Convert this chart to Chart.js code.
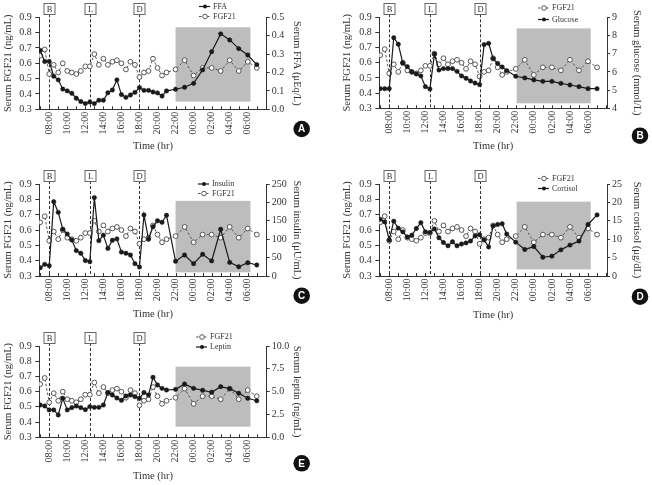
<!DOCTYPE html>
<html><head><meta charset="utf-8">
<script src="https://cdn.jsdelivr.net/npm/chart.js@4.4.1/dist/chart.umd.min.js"></script>
<style>
html,body{margin:0;padding:0;background:#fff;}
#wrap{position:relative;width:652px;height:485px;overflow:hidden;background:#fff;}
#wrap canvas{position:absolute;left:0;top:0;}
</style></head><body>
<div id="wrap">
<canvas id="cA" width="652" height="485"></canvas>
<canvas id="cB" width="652" height="485"></canvas>
<canvas id="cC" width="652" height="485"></canvas>
<canvas id="cD" width="652" height="485"></canvas>
<canvas id="cE" width="652" height="485"></canvas>
</div>
<script>
// ---- data (hours; 24+ = next day) ----
const timePoints = [7,7.5,8,8.5,9,9.5,10,10.5,11,11.5,12,12.5,13,13.5,14,14.5,15,15.5,16,16.5,17,17.5,18,18.5,19,19.5,20,20.5,21,22,23,24,25,26,27,28,29,30,31];
const xTickValues = [8,10,12,14,16,18,20,22,24,26,28,30];
const xTickLabels = ['08:00','10:00','12:00','14:00','16:00','18:00','20:00','22:00','00:00','02:00','04:00','06:00'];
const mealTimes = [8,12.5,18];
const mealLabels = ['B','L','D'];

const fgf21 = [0.65,0.69,0.53,0.59,0.54,0.60,0.55,0.54,0.53,0.55,0.58,0.58,0.66,0.59,0.63,0.59,0.61,0.62,0.60,0.56,0.61,0.59,0.51,0.54,0.55,0.63,0.57,0.52,0.54,
               0.56,0.62,0.52,0.57,0.57,0.55,0.62,0.55,0.61,0.57];
const ffa = [0.32,0.26,0.26,0.18,0.16,0.11,0.10,0.087,0.06,0.042,0.031,0.04,0.031,0.049,0.049,0.09,0.105,0.16,0.08,0.065,0.078,0.092,0.118,0.103,0.103,0.094,0.089,0.072,0.10,
             0.109,0.12,0.141,0.214,0.313,0.41,0.377,0.33,0.295,0.243];
const glucose = [5.08,5.08,5.08,7.88,7.52,6.49,6.29,6.0,5.89,5.78,5.19,5.06,6.98,6.1,6.18,6.18,6.18,6.03,5.78,5.65,5.5,5.39,5.3,7.5,7.57,6.73,6.47,6.27,6.07,
                 5.76,5.67,5.56,5.48,5.48,5.37,5.28,5.19,5.08,5.08];
const insulin = [22.6,31.7,28,202,173,127,114,98,69,62,42,39,213,96,111,75,97,101,65,62,57,33.5,24.5,166,100,134,150,146,165,
                 40,57,33.5,59,41,127,37,25,36,30];
const cortisol = [15.4,14.7,9.8,14.9,13.0,12.0,10.6,11.1,12.9,14.5,12.0,11.8,12.8,10.4,9.1,8.2,9.3,8.2,8.7,9.0,9.5,10.9,11.2,9.8,7.9,13.6,14.0,14.2,11.4,
                  9.2,7.2,8.0,5.1,5.4,7.1,8.4,9.5,14.0,16.6];
const leptin = [3.54,3.43,3.0,3.0,2.45,4.27,3.0,3.25,3.43,3.25,3.03,3.36,3.28,3.28,3.54,4.9,4.63,4.3,4.05,4.53,4.63,4.45,4.27,4.9,4.63,6.57,5.73,5.36,5.18,
                5.25,5.84,5.36,5.15,4.93,5.55,5.33,4.82,4.27,4.0];

// ---- styling ----
const SERIF = "'Liberation Serif','Times New Roman',serif";
const TXT = '#333';
const DARK = '#1a1a1a';
const GREY = '#555';

function pts(vals){ return vals.map((v,i)=>({x:timePoints[i], y:v})); }

function solidSet(label, vals){
  return {label, data:pts(vals), yAxisID:'y2', borderColor:DARK, borderWidth:1.2,
    pointRadius:2.2, pointBackgroundColor:DARK, pointBorderColor:DARK, pointBorderWidth:0.5, tension:0, order:1};
}
function fgfSet(){
  return {label:'FGF21', data:pts(fgf21), yAxisID:'y', borderColor:GREY, borderWidth:1, borderDash:[2.5,2],
    pointRadius:2.4, pointBackgroundColor:'#fff', pointBorderColor:GREY, pointBorderWidth:1, tension:0, order:2};
}

const panels = [
 {id:'cA', letter:'A', L:39.3, R:266.7, T:17.3, B:109.3, ltx:8, rtx:296.7, xty:146.7, lx:301.7, ly:129,
  legX:213, legY:[6.5,16.5], legend:[['FFA','s'],['FGF21','d']],
  shade:[22,30.3,0.35,0.835], series:ffa, name:'FFA', rTitle:'Serum FFA (\u03bcEq/L)', rMin:0, rMax:0.5, rStep:0.1, rDec:1},
 {id:'cB', letter:'B', L:379.3, R:607, T:17.3, B:108.3, ltx:347, rtx:637, xty:146.7, lx:640, ly:135.7,
  legX:552, legY:[8,19.5], legend:[['FGF21','d'],['Glucose','s']],
  shade:[22.1,30.3,0.333,0.827], series:glucose, name:'Glucose', rTitle:'Serum glucose (mmol/L)', rMin:4, rMax:9, rStep:1, rDec:0},
 {id:'cC', letter:'C', L:39.3, R:266.7, T:184, B:276, ltx:8, rtx:296.7, xty:314, lx:301.7, ly:295.7,
  legX:212, legY:[184,193.5], legend:[['Insulin','s'],['FGF21','d']],
  shade:[22,30.3,0.324,0.79], series:insulin, name:'Insulin', rTitle:'Serum insulin (\u03bcU/mL)', rMin:0, rMax:250, rStep:50, rDec:0},
 {id:'cD', letter:'D', L:379.3, R:607, T:184, B:276, ltx:347, rtx:637, xty:315, lx:640, ly:296.7,
  legX:552, legY:[178.5,188.5], legend:[['FGF21','d'],['Cortisol','s']],
  shade:[22.1,30.3,0.343,0.785], series:cortisol, name:'Cortisol', rTitle:'Serum cortisol (\u03bcg/dL)', rMin:0, rMax:25, rStep:5, rDec:0},
 {id:'cE', letter:'E', L:39.3, R:266.7, T:346, B:437.3, ltx:8, rtx:296.7, xty:476.7, lx:301.7, ly:463.3,
  legX:210, legY:[337,347], legend:[['FGF21','d'],['Leptin','s']],
  shade:[22,30.3,0.37,0.764], series:leptin, name:'Leptin', rTitle:'Serum leptin (ng/mL)', rMin:0, rMax:10, rStep:2.5, rDec:1}
];

const decor = {
  id:'decor',
  beforeDatasetsDraw(chart){
    const p = chart.config.options.plugins.decor;
    const {ctx, scales:{x,y}, chartArea:ca} = chart;
    ctx.save();
    const [x0,x1,y0,y1] = p.shade;
    ctx.fillStyle = '#bdbdbd';
    const px0 = x.getPixelForValue(x0), px1 = x.getPixelForValue(x1);
    const py0 = y.getPixelForValue(y1), py1 = y.getPixelForValue(y0);
    ctx.fillRect(px0, py0, px1-px0, py1-py0);
    ctx.strokeStyle = '#333'; ctx.lineWidth = 1; ctx.setLineDash([3,2]);
    mealTimes.forEach(t=>{
      const px = Math.round(x.getPixelForValue(t))+0.5;
      ctx.beginPath(); ctx.moveTo(px, ca.top-3); ctx.lineTo(px, ca.bottom); ctx.stroke();
    });
    ctx.setLineDash([]);
    ctx.strokeStyle = '#333';
    for(let h=7; h<=32; h++){
      const px = Math.round(x.getPixelForValue(h))+0.5;
      if(px < ca.left || px > ca.right) continue;
      ctx.beginPath(); ctx.moveTo(px, ca.bottom); ctx.lineTo(px, ca.bottom-3); ctx.stroke();
    }
    ctx.restore();
  },
  afterDraw(chart){
    const p = chart.config.options.plugins.decor;
    const {ctx, scales:{x}, chartArea:ca} = chart;
    ctx.save();
    ctx.font = '8.5px ' + SERIF; ctx.textAlign='center'; ctx.textBaseline='middle';
    mealTimes.forEach((t,i)=>{
      const px = Math.round(x.getPixelForValue(t))+0.5;
      const bx = px-5.5, by = Math.round(ca.top-14.5)+0.5;
      ctx.fillStyle='#fff'; ctx.fillRect(bx,by,11,11);
      ctx.strokeStyle='#666'; ctx.lineWidth=1; ctx.strokeRect(bx,by,11,11);
      ctx.fillStyle='#333'; ctx.fillText(mealLabels[i], px, by+6);
    });
    ctx.font = '8px ' + SERIF; ctx.textAlign='left'; ctx.textBaseline='middle';
    p.legend.forEach((it,i)=>{
      const ly = p.legY[i];
      const tx = p.legX, cx = tx-8;
      ctx.lineWidth = it[1]==='s'?1.2:1;
      ctx.strokeStyle = it[1]==='s'?DARK:GREY;
      if(it[1]==='d'){ ctx.setLineDash([2.5,1.5]); }
      ctx.beginPath(); ctx.moveTo(cx-6, ly); ctx.lineTo(cx+5, ly); ctx.stroke();
      ctx.setLineDash([]);
      ctx.beginPath(); ctx.arc(cx, ly, it[1]==='s'?2:2.3, 0, Math.PI*2);
      if(it[1]==='s'){ ctx.fillStyle=DARK; ctx.fill(); }
      else { ctx.fillStyle='#fff'; ctx.fill(); ctx.stroke(); }
      ctx.fillStyle = '#333';
      ctx.fillText(it[0], tx, ly);
    });
    ctx.beginPath(); ctx.arc(p.lx, p.ly, 8.3, 0, Math.PI*2);
    ctx.fillStyle='#111'; ctx.fill();
    ctx.fillStyle='#fff'; ctx.font="bold 10px 'Liberation Sans',Arial,sans-serif";
    ctx.textAlign='center'; ctx.textBaseline='middle';
    ctx.fillText(p.letter, p.lx, p.ly+0.5);
    ctx.restore();
  }
};

function tickFont(){ return {family:SERIF, size:10}; }
function titleFont(){ return {family:SERIF, size:10.5, lineHeight:1.2}; }

panels.forEach(d=>{
  const padLeft = d.ltx - 7.3;
  const WL = d.L - padLeft;
  const scaleRight = d.rtx + 7.3;
  const padRight = 652 - scaleRight;
  const WR = scaleRight - d.R;
  const scaleBottom = d.xty + 7.3;
  const padBottom = 485 - scaleBottom;
  const HX = scaleBottom - d.B;
  const datasets = [solidSet(d.name, d.series), fgfSet()];
  new Chart(document.getElementById(d.id), {
    type:'line',
    data:{datasets},
    plugins:[decor],
    options:{
      responsive:false, animation:false, devicePixelRatio:1,
      layout:{padding:{left:padLeft, right:padRight, top:d.T, bottom:padBottom}},
      plugins:{legend:{display:false}, tooltip:{enabled:false}, decor:d},
      scales:{
        x:{type:'linear', position:'bottom', min:6.9, max:32.1,
          afterBuildTicks:s=>{ s.ticks = xTickValues.map(v=>({value:v})); },
          afterFit:s=>{ s.height = HX; },
          ticks:{autoSkip:false, maxRotation:90, minRotation:90, padding:2.5, color:TXT, font:tickFont(),
            callback:(v)=>{ const i = xTickValues.indexOf(v); return i>=0 ? xTickLabels[i] : ''; }},
          grid:{display:true, drawOnChartArea:false, drawTicks:false},
          border:{display:true, color:'#333', width:1},
          title:{display:true, text:'Time (hr)', color:TXT, font:titleFont(), padding:{top:1,bottom:1}}
        },
        y:{position:'left', min:0.3, max:0.9,
          afterFit:s=>{ s.width = WL; },
          ticks:{stepSize:0.1, padding:3.5, color:TXT, font:tickFont(), callback:v=>Number(v).toFixed(1)},
          grid:{display:true, drawOnChartArea:false, drawTicks:true, tickLength:4, color:'#333'},
          border:{display:true, color:'#333', width:1},
          title:{display:true, text:'Serum FGF21 (ng/mL)', color:TXT, font:titleFont(), padding:{top:1,bottom:1}}
        },
        y2:{position:'right', min:d.rMin, max:d.rMax,
          afterFit:s=>{ s.width = WR; },
          ticks:{stepSize:d.rStep, padding:2, color:TXT, font:tickFont(), callback:v=>Number(v).toFixed(d.rDec)},
          grid:{display:true, drawOnChartArea:false, drawTicks:true, tickLength:3, color:'#333'},
          border:{display:true, color:'#333', width:1},
          title:{display:true, text:d.rTitle, color:TXT, font:titleFont(), padding:{top:1,bottom:1}}
        }
      }
    }
  });
});
</script>
</body></html>
